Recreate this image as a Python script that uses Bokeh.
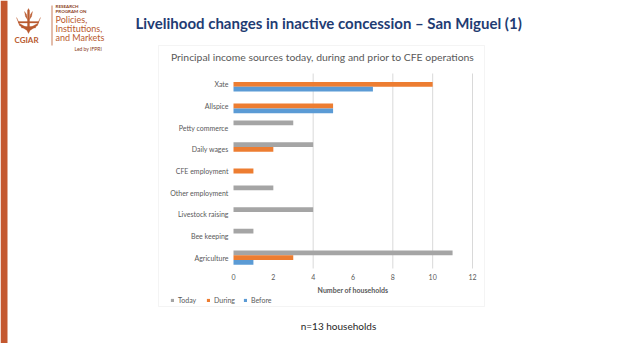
from bokeh.plotting import figure
from bokeh.models import (ColumnDataSource, Range1d, Label, BoxAnnotation, PolyAnnotation,
                          Legend, LegendItem, FixedTicker, LinearAxis)
from bokeh.transform import dodge
from bokeh.embed import file_html
from bokeh.resources import INLINE

# ---- data ----
categories = ["Xate", "Allspice", "Petty commerce", "Daily wages", "CFE employment",
              "Other employment", "Livestock raising", "Bee keeping", "Agriculture"]
today = [0, 0, 3, 4, 0, 2, 4, 1, 11]
during = [10, 5, 0, 2, 1, 0, 0, 0, 3]
before = [7, 5, 0, 0, 0, 0, 0, 0, 1]
x_ticks = [0, 2, 4, 6, 8, 10, 12]
grid_ticks = [4, 8, 10, 12]
series_names = ["Today", "During", "Before"]
series_colors = ["#a5a5a5", "#ed7d31", "#5b9bd5"]

TXT = "#595959"
FONT = "Lato"
BAND = "#c4582f"
LOGO = "#b95a2e"

# ---- layout (pixels) ----
W, H = 622, 343
PL, PR, PT, PB = 233, 472, 73, 268        # plot area
n = len(categories)
xmax = x_ticks[-1]
sxu = (PR - PL) / xmax                     # px per x unit
syu = (PB - PT) / n                        # px per category
x_range = Range1d(-PL / sxu, (W - PL) / sxu)
y_range = Range1d((H - PT) / syu - 0.5, -PT / syu - 0.5)   # flipped: first category on top

idx = list(range(n))
src = ColumnDataSource(dict(idx=idx, cat=categories, today=today, during=during,
                            before=before))

p = figure(width=W, height=H, x_range=x_range, y_range=y_range, output_backend="svg",
           toolbar_location=None, min_border=0, x_axis_location=None,
           y_axis_location=None)
p.outline_line_color = None
p.grid.grid_line_color = None
p.background_fill_color = "white"
p.border_fill_color = "white"

# gridlines limited to the plot area
p.segment(x0=grid_ticks, x1=grid_ticks, y0=-0.5, y1=n - 0.5, line_color="#d9d9d9",
          line_width=1)

h = 0.22
r_today = p.hbar(y=dodge("idx", -h), left=0, right="today", height=h, source=src,
                  color=series_colors[0], line_color=None)
r_during = p.hbar(y=dodge("idx", 0), left=0, right="during", height=h, source=src,
                   color=series_colors[1], line_color=None)
r_before = p.hbar(y=dodge("idx", h), left=0, right="before", height=h, source=src,
                   color=series_colors[2], line_color=None)

# axes drawn at fixed data locations
xaxis = LinearAxis(fixed_location=n - 0.5, bounds=(0, xmax),
                   ticker=FixedTicker(ticks=x_ticks))
xaxis.axis_line_color = None
xaxis.major_tick_line_color = None
xaxis.minor_tick_line_color = None
xaxis.major_tick_out = 0
xaxis.major_tick_in = 0
xaxis.minor_tick_out = 0
xaxis.major_label_text_font_size = "7px"
xaxis.major_label_text_color = TXT
xaxis.major_label_text_font = FONT
xaxis.major_label_standoff = 5
xaxis.axis_label = "Number of households"
xaxis.axis_label_text_font_size = "7px"
xaxis.axis_label_text_font_style = "bold"
xaxis.axis_label_text_color = TXT
xaxis.axis_label_text_font = FONT
xaxis.axis_label_standoff = 3
p.add_layout(xaxis, "below")

yaxis = LinearAxis(fixed_location=0, bounds=(-0.5, n - 0.5),
                   ticker=FixedTicker(ticks=idx),
                   major_label_overrides={i: c for i, c in zip(idx, categories)})
yaxis.axis_line_color = None
yaxis.major_tick_line_color = None
yaxis.minor_tick_line_color = None
yaxis.major_tick_out = 0
yaxis.major_tick_in = 0
yaxis.minor_tick_out = 0
yaxis.major_label_text_font_size = "7px"
yaxis.major_label_text_color = TXT
yaxis.major_label_text_font = FONT
yaxis.major_label_standoff = 5
p.add_layout(yaxis, "left")

# legend
legend = Legend(items=[LegendItem(label=series_names[0], renderers=[r_today]),
                       LegendItem(label=series_names[1], renderers=[r_during]),
                       LegendItem(label=series_names[2], renderers=[r_before])],
                orientation="horizontal", location=(170, H - 304),
                glyph_width=4, glyph_height=4, label_height=8, label_standoff=4,
                spacing=8, padding=1, margin=0, border_line_color=None,
                background_fill_alpha=0, label_text_font_size="7px",
                label_text_color=TXT, label_text_font=FONT)
p.add_layout(legend, "center")

# screen helpers (x from left, y from bottom)
def sy(Y):
    return H - Y

def box(l, r, t, b, fill=None, line=None, alpha=1.0):
    p.add_layout(BoxAnnotation(left=l, right=r, top=sy(t), bottom=sy(b),
                               left_units="screen", right_units="screen",
                               top_units="screen", bottom_units="screen",
                               fill_color=fill, fill_alpha=alpha if fill else 0,
                               line_color=line, line_width=1, level="underlay"))

def lab(X, Y, t, size, bold=False, color=LOGO, align="left"):
    p.add_layout(Label(x=X, y=sy(Y), x_units="screen", y_units="screen", text=t,
                       text_align=align, text_baseline="middle", text_font=FONT,
                       text_font_size=size, text_font_style="bold" if bold else "normal",
                       text_color=color))

# slide band and chart box
box(0, 7, 0, H, fill=BAND)
box(158, 484, 45, 306, line="#d9d9d9")

# texts
lab(322, 56, "Principal income sources today, during and prior to CFE operations",
    "10.4px", False, TXT, "center")
lab(135, 22, "Livelihood changes in inactive concession \u2013 San Miguel (1)",
    "15px", True, "#1f3c73")
lab(338, 325, "n=13 households", "10px", False, "#262626", "center")

# logo
lab(55, 6, "RESEARCH", "4.5px", True, "#8a3d22")
lab(55, 11, "PROGRAM ON", "4.5px", True, "#8a3d22")
lab(55, 18.5, "Policies,", "9px")
lab(55, 27.5, "Institutions,", "9px")
lab(55, 36.5, "and Markets", "9px")
lab(74, 48, "Led by IFPRI", "5px", False, "#8a3d22")
lab(14, 39, "CGIAR", "8px", True)
box(51, 52, 5, 45, fill=LOGO, alpha=0.8)

def poly(pts):
    p.add_layout(PolyAnnotation(xs=[a for a, b in pts], ys=[sy(b) for a, b in pts],
                                xs_units="screen", ys_units="screen",
                                fill_color=LOGO, fill_alpha=1, line_color=LOGO,
                                line_width=1))

poly([(28, 8), (29, 10), (29, 31), (28, 33), (27, 31), (27, 10)])
poly([(24, 11), (25, 16), (27, 19), (26, 14)])
poly([(32, 11), (31, 16), (29, 19), (30, 14)])
poly([(16, 17), (19, 25), (28, 31), (37, 25), (40, 17), (37, 23), (28, 28), (19, 23)])
poly([(18, 21), (38, 21), (38, 22.5), (18, 22.5)])
poly([(21, 26), (35, 26), (35, 27.5), (21, 27.5)])

open("out.html", "w").write(file_html(p, INLINE))
